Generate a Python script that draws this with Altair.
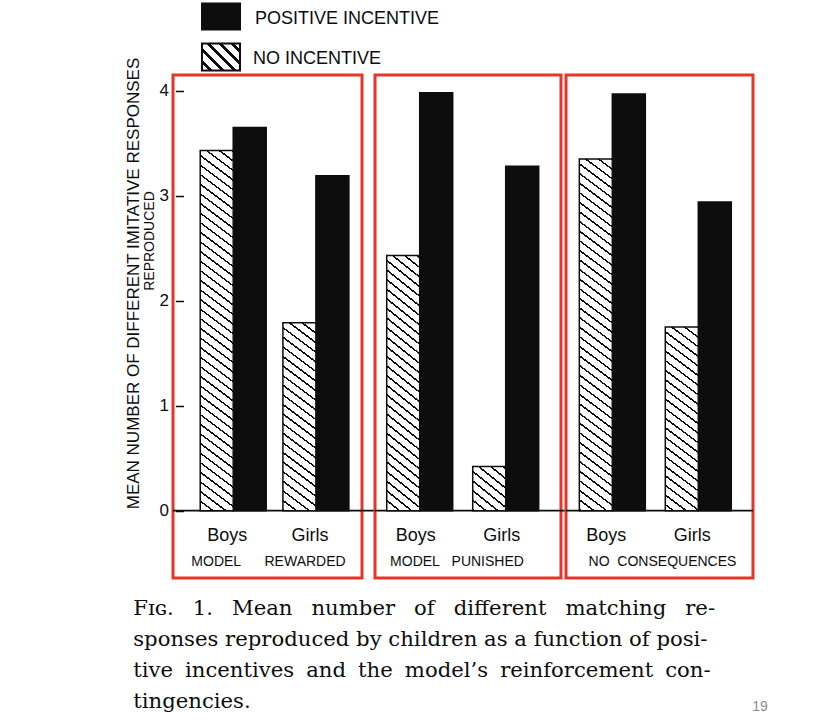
import math
import altair as alt
import pandas as pd

# ---- data -------------------------------------------------------------
conditions = ["MODEL REWARDED", "MODEL PUNISHED", "NO CONSEQUENCES"]
genders = ["Boys", "Girls"]
incentives = ["No incentive", "Positive incentive"]
# mean responses, ordered (condition, gender): MR-Boys, MR-Girls, MP-Boys, ...
no_incentive = [3.43, 1.79, 2.43, 0.42, 3.35, 1.75]
positive_incentive = [3.65, 3.19, 3.98, 3.28, 3.97, 2.94]
y_ticks = [0, 1, 2, 3, 4]

y_title = "MEAN NUMBER OF DIFFERENT IMITATIVE RESPONSES"
y_subtitle = "REPRODUCED"
legend_labels = ["POSITIVE INCENTIVE", "NO INCENTIVE"]
caption_lines = [
    "Fɪɢ. 1. Mean number of different matching re-",
    "sponses reproduced by children as a function of posi-",
    "tive incentives and the model\u2019s reinforcement con-",
    "tingencies.",
]
page_number = "19"

rows = []
for ci, cond in enumerate(conditions):
    for gi, g in enumerate(genders):
        k = ci * 2 + gi
        rows.append(dict(condition=cond, gender=g, incentive=incentives[0], value=no_incentive[k]))
        rows.append(dict(condition=cond, gender=g, incentive=incentives[1], value=positive_incentive[k]))
df = pd.DataFrame(rows)

# ---- layout / style ---------------------------------------------------
RED = "#e8352a"
INK = "#0d0d0d"
WHITE = "#ffffff"
SANS = "Liberation Sans"
SERIF = "DejaVu Serif"
Y_MIN, Y_MAX = -0.641, 4.15
PLOT_H = 503
PX_PER_UNIT = PLOT_H / (Y_MAX - Y_MIN)

# per panel: width, (paddingInner, paddingOuter, align), word gap in label, label centre
PANELS = [
    dict(width=189, band=(0.202, 0.244, 0.675), gap=6, label_x=95.5),
    dict(width=186, band=(0.183, 0.173, 0.394), gap=3, label_x=82),
    dict(width=187, band=(0.233, 0.204, 0.38), gap=2, label_x=96.5),
]
PANEL_GAPS = [13, 5]

# extra word spacing that justifies each caption line
CAPTION_SPACING = ["\u2004\u2005", "", "\u2005", ""]


def justify(line, extra):
    return line.replace(" ", " " + extra) if extra else line


def hatch_fill(w, h, slope, gap, thick):
    """Diagonal (\\\\) hatching as a striped linear gradient in bounding-box units."""
    a = -slope * w / h
    lam = (1.0 - a) / (1.0 + a * a)
    span = 1.0 - a
    step = gap / h
    half = thick * math.sqrt(1 + slope * slope) / h / 2.0
    stops = [alt.GradientStop(offset=0.0, color=WHITE)]
    k = math.floor(a / step) - 1
    while True:
        f = (k + 0.5) * step
        if f - half > 1.0:
            break
        lo = (f - half - a) / span
        hi = (f + half - a) / span
        if hi > 0 and lo < 1:
            lo = round(max(lo, 0.0), 5)
            hi = round(min(hi, 1.0), 5)
            stops += [
                alt.GradientStop(offset=lo, color=WHITE),
                alt.GradientStop(offset=lo, color=INK),
                alt.GradientStop(offset=hi, color=INK),
                alt.GradientStop(offset=hi, color=WHITE),
            ]
        k += 1
    stops.append(alt.GradientStop(offset=1.0, color=WHITE))
    return alt.LinearGradient(gradient="linear", stops=stops,
                              x1=1.0, y1=0.0, x2=1.0 + lam * a, y2=lam)


def make_panel(ci, show_axis, extras=()):
    cfg = PANELS[ci]
    width = cfg["width"]
    p_in, p_out, align = cfg["band"]
    step = width / (2 - p_in + 2 * p_out)
    bar_w = step * (1 - p_in) / 2

    d = df[df.condition == conditions[ci]].copy()
    d["panel_label"] = conditions[ci].replace(" ", "\u00a0" * cfg["gap"])

    axis = None
    if show_axis:
        axis = alt.Axis(values=y_ticks, title=None, domain=False, grid=False,
                        offset=-10.5, tickSize=8, tickWidth=1.5, tickColor=INK,
                        labelFont=SANS, labelFontSize=17, labelColor=INK,
                        labelPadding=7, format="d")

    x = alt.X("gender:N", axis=None,
              scale=alt.Scale(domain=genders, paddingInner=p_in,
                              paddingOuter=p_out, align=align))
    xo = alt.XOffset("incentive:N",
                     scale=alt.Scale(domain=incentives, paddingInner=0, paddingOuter=0))
    yscale = alt.Scale(domain=[Y_MIN, Y_MAX], nice=False)
    y = alt.Y("value:Q", scale=yscale, axis=axis)

    base = alt.Chart(d)
    layers = []

    # zero baseline running across the panel
    ext = PANEL_GAPS[ci] if ci < len(PANEL_GAPS) else 0
    layers.append(
        alt.Chart(pd.DataFrame({"value": [0]}))
        .mark_rule(color=INK, strokeWidth=1.8)
        .encode(y=alt.Y("value:Q", scale=yscale, axis=axis),
                x=alt.value(0), x2=alt.value(width + ext))
    )

    # solid bars: positive incentive
    layers.append(
        base.transform_filter(alt.datum.incentive == incentives[1])
        .mark_bar(fill=INK, stroke=INK, strokeWidth=1.5)
        .encode(x=x, xOffset=xo, y=y)
    )

    # hatched bars: no incentive (one layer each, hatching sized to the bar)
    for g in genders:
        val = float(d[(d.gender == g) & (d.incentive == incentives[0])].value.iloc[0])
        fill = hatch_fill(bar_w, val * PX_PER_UNIT, 0.75, 9.6, 1.5)
        layers.append(
            base.transform_filter((alt.datum.incentive == incentives[0]) & (alt.datum.gender == g))
            .mark_bar(fill=fill, stroke=INK, strokeWidth=1.5)
            .encode(x=x, xOffset=xo, y=y)
        )

    # Boys / Girls labels under each pair
    layers.append(
        base.transform_filter(alt.datum.incentive == incentives[1])
        .mark_text(font=SANS, fontSize=18, color=INK, dx=-6, baseline="alphabetic")
        .encode(x=x, y=alt.value(466), text="gender:N")
    )

    # condition label at the bottom of the box
    layers.append(
        base.transform_filter((alt.datum.incentive == incentives[1]) & (alt.datum.gender == genders[0]))
        .mark_text(font=SANS, fontSize=14, color=INK, baseline="alphabetic")
        .encode(x=alt.value(cfg["label_x"]), y=alt.value(491), text="panel_label:N")
    )

    layers.extend(extras)
    return alt.layer(*layers).properties(width=width, height=PLOT_H)


one = pd.DataFrame({"k": [0]})

# legend (top-left), y-axis titles and caption live with the first panel
legend = [
    alt.Chart(one).mark_rect(fill=INK, stroke=INK, strokeWidth=2).encode(
        x=alt.value(29), x2=alt.value(67), y=alt.value(-71.5), y2=alt.value(-45.5)),
    alt.Chart(one).mark_rect(fill=hatch_fill(38, 27, 1.0, 12, 2.6), stroke=INK, strokeWidth=2).encode(
        x=alt.value(29), x2=alt.value(67), y=alt.value(-31.5), y2=alt.value(-4.5)),
    alt.Chart(one).mark_text(font=SANS, fontSize=18, color=INK, align="left", baseline="alphabetic").encode(
        x=alt.value(82), y=alt.value(-51), text=alt.value(legend_labels[0])),
    alt.Chart(one).mark_text(font=SANS, fontSize=18, color=INK, align="left", baseline="alphabetic").encode(
        x=alt.value(80), y=alt.value(-11), text=alt.value(legend_labels[1])),
]
titles = [
    alt.Chart(one).mark_text(font=SANS, fontSize=17, color=INK, angle=270,
                             align="center", baseline="middle").encode(
        x=alt.value(-38.6), y=alt.value(208.5), text=alt.value(y_title)),
    alt.Chart(one).mark_text(font=SANS, fontSize=14, color=INK, angle=270,
                             align="center", baseline="middle").encode(
        x=alt.value(-22.8), y=alt.value(166), text=alt.value(y_subtitle)),
]
caption = [
    alt.Chart(one).mark_text(font=SERIF, fontSize=21.2, color=INK, align="left",
                             baseline="alphabetic", lineHeight=31).encode(
        x=alt.value(-39.8), y=alt.value(540),
        text=alt.value([justify(t, s) for t, s in zip(caption_lines, CAPTION_SPACING)])),
]
page = [
    alt.Chart(one).mark_text(font=SANS, fontSize=14, color="#8a8a8a", align="center",
                             baseline="alphabetic").encode(
        x=alt.value(194), y=alt.value(636), text=alt.value(page_number)),
]

p1 = make_panel(0, True, legend + titles + caption)
p2 = make_panel(1, False)
p3 = make_panel(2, False, page)

chart = (
    alt.hconcat(p1, alt.hconcat(p2, p3, spacing=PANEL_GAPS[1], bounds="flush"),
                spacing=PANEL_GAPS[0], bounds="flush")
    .properties(padding={"left": 123, "top": 1, "right": 0, "bottom": 0},
                background="white")
    .configure_view(stroke=RED, strokeWidth=3)
)

chart.save("out.html", embed_options={"renderer": "svg", "actions": False})
